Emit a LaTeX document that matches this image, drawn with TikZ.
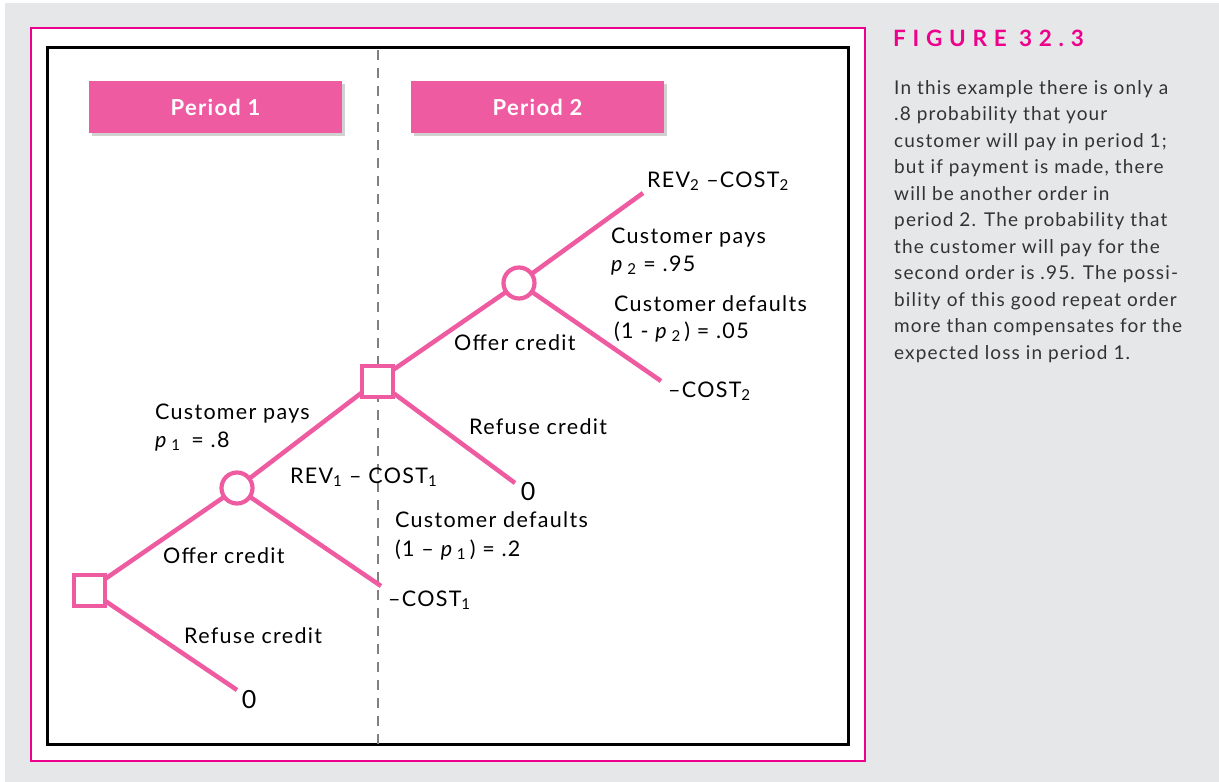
\documentclass[tikz,border=0pt]{standalone}
\usepackage{fontspec}
\setmainfont[LetterSpace=6]{Lato}
\newfontfamily\headfont[LetterSpace=30]{Lato}
\usetikzlibrary{shadows}
\definecolor{bggray}{HTML}{E6E7E8}
\definecolor{framepink}{HTML}{EC008C}
\definecolor{linepink}{HTML}{EE5BA0}
\definecolor{boxpink}{HTML}{EF5BA1}
\definecolor{captext}{HTML}{333333}
\pgfdeclarelayer{frame}
\pgfdeclarelayer{branches}
\pgfsetlayers{frame,branches,main}
\begin{document}
\begin{tikzpicture}[x=1pt,y=-1pt,
  branch/.style={draw=linepink, line width=4.5pt},
  decision/.style={rectangle, draw=linepink, line width=4pt, fill=white, minimum size=31pt, inner sep=0pt},
  chance/.style={circle, draw=linepink, line width=4.2pt, fill=white, minimum size=31pt, inner sep=0pt},
  lbl/.style={font=\fontsize{21.5}{25}\selectfont, inner sep=0pt, anchor=base west, text=black},
  payoff/.style={font=\fontsize{25}{28}\selectfont, inner sep=0pt, anchor=base, text=black},
  period/.style={fill=boxpink, minimum width=253pt, minimum height=52pt, inner sep=0pt,
    font=\fontsize{22}{26}\selectfont\bfseries, text=white,
    drop shadow={shadow xshift=2.5pt, shadow yshift=-2.5pt, opacity=0.18, fill=black}},
]
\useasboundingbox (0,0) rectangle (1219,782);
\begin{pgfonlayer}{frame}
\fill[white] (0,0) rectangle (1219,782);
\fill[bggray] (5,3) rectangle (1219,782);
\filldraw[fill=white, draw=framepink, line width=2.5pt] (31,28) rectangle (865,761);
\draw[line width=3pt] (47,47) rectangle (848,744);
\draw[gray, line width=2pt, dash pattern=on 10pt off 8pt] (378,50) -- (378,744);
\end{pgfonlayer}

% period headers
\node[period] (per1) at (215.5,107) {Period 1};
\node[period] (per2) at (537.5,107) {Period 2};

% tree nodes
\node[decision] (d1) at (89,590) {};
\node[chance] (c1) at (237,488) {};
\node[decision] (d2) at (377,381) {};
\node[chance] (c2) at (519,283) {};
\coordinate (e1) at (237,690);
\coordinate (e2) at (381,586);
\coordinate (e3) at (515,483);
\coordinate (e4) at (643,193);
\coordinate (e5) at (661,381);

\begin{pgfonlayer}{branches}
\draw[branch] (d1.center) -- (c1.center);
\draw[branch] (d1.center) -- (e1);
\draw[branch] (c1.center) -- (d2.center);
\draw[branch] (c1.center) -- (e2);
\draw[branch] (d2.center) -- (c2.center);
\draw[branch] (d2.center) -- (e3);
\draw[branch] (c2.center) -- (e4);
\draw[branch] (c2.center) -- (e5);
\end{pgfonlayer}

% labels
\node[lbl] (l1) at (155,419) {Customer pays};
\node[lbl] (l2) at (155,447) {\textit{p}\,\textsubscript{1}\enspace= .8};
\node[lbl] (l3) at (290,483) {REV\textsubscript{1} – COST\textsubscript{1}};
\node[lbl] (l4) at (163,563) {Offer credit};
\node[lbl] (l5) at (395,527) {Customer defaults};
\node[lbl] (l6) at (395,556) {(1 – \textit{p}\,\textsubscript{1}\,) = .2};
\node[lbl] (l7) at (388,606) {–COST\textsubscript{1}};
\node[lbl] (l8) at (184,643) {Refuse credit};
\node[payoff] (l9) at (249,708) {0};
\node[lbl] (l10) at (454,350) {Offer credit};
\node[lbl] (l11) at (469,434) {Refuse credit};
\node[payoff] (l12) at (528,500) {0};
\node[lbl] (l13) at (611,243) {Customer pays};
\node[lbl] (l14) at (611,271) {\textit{p}\,\textsubscript{2} = .95};
\node[lbl] (l15) at (614,311) {Customer defaults};
\node[lbl] (l16) at (614,338) {(1 - \textit{p}\,\textsubscript{2}\,) = .05};
\node[lbl] (l17) at (647,187) {REV\textsubscript{2} –COST\textsubscript{2}};
\node[lbl] (l18) at (668,397) {–COST\textsubscript{2}};

% caption
\node[anchor=base west, inner sep=0pt, text=framepink, font=\headfont\bfseries\fontsize{22.5}{26}\selectfont] (head) at (893,46) {FIGURE 32.3};
\node[anchor=north west, inner sep=0pt, align=left, text=captext, font=\fontsize{19}{26.5}\selectfont] (cap) at (894,80)
{In this example there is only a\\
.8 probability that your\\
customer will pay in period 1;\\
but if payment is made, there\\
will be another order in\\
period 2. The probability that\\
the customer will pay for the\\
second order is .95. The possi-\\
bility of this good repeat order\\
more than compensates for the\\
expected loss in period 1.};
\end{tikzpicture}
\end{document}
